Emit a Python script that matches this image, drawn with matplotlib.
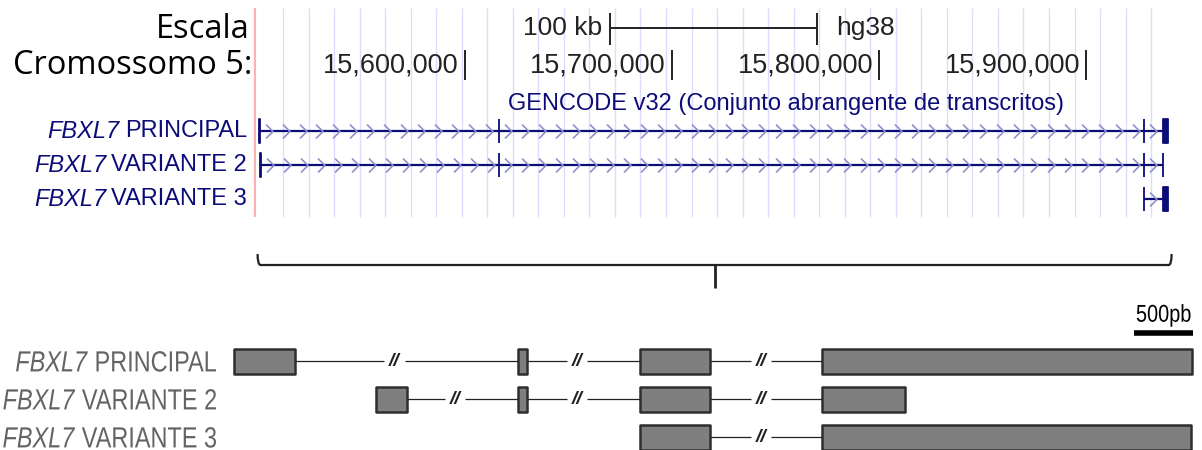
import matplotlib
matplotlib.use("Agg")
import matplotlib.pyplot as plt
import numpy as np
from matplotlib import font_manager
from matplotlib.path import Path
from matplotlib.patches import PathPatch
from matplotlib.textpath import TextPath
from matplotlib.transforms import Affine2D, IdentityTransform

# genome browser view, hg38 chr5
chrom_ticks = [15600000, 15700000, 15800000, 15900000]
chrom_labels = ["15,600,000", "15,700,000", "15,800,000", "15,900,000"]
scale_bar = (15670000, 15770000)
window_start = 15498550

gene = "FBXL7"
browser_names = ["PRINCIPAL", "VARIANTE 2", "VARIANTE 3"]
browser_exons = [
    [(15500300, 15500900), (15616300, 15616500), (15927900, 15928100), (15937000, 15939850)],
    [(15501200, 15501600), (15616300, 15616500), (15927900, 15928100), (15937000, 15937350)],
    [(15927900, 15928100), (15937000, 15939850)],
]

# exon schematic in bp, long introns collapsed at the breaks
schema_names = ["PRINCIPAL", "VARIANTE 2", "VARIANTE 3"]
schema_exons = [
    [(0, 520), (2405, 2485), (3440, 4035), (4980, 8120)],
    [(1200, 1470), (2405, 2485), (3440, 4030), (4980, 5690)],
    [(3440, 4030), (4980, 8110)],
]
schema_breaks = [
    [1360, 2910, 4470],
    [1870, 2910, 4470],
    [4470],
]
scale_bp = 500


def pick_font(*names):
    for n in names:
        try:
            font_manager.findfont(font_manager.FontProperties(family=n),
                                  fallback_to_default=False)
            return n
        except ValueError:
            pass
    return "DejaVu Sans"


sans = pick_font("Liberation Sans", "Arial")
head = pick_font("Open Sans", "Noto Sans")

NAVY = "#0c0c78"
GREY_TXT = "#646464"

W, H = 1202, 450
DPI = 100
fig = plt.figure(figsize=(W / DPI, H / DPI), dpi=DPI)
renderer = fig.canvas.get_renderer()

# top axes: x in genomic bp, y in screen rows
px_per_bp = 0.00207
ax = fig.add_axes([0, 0, 1, 1])
ax.set_xlim(15600000 - 465 / px_per_bp, 15600000 + (W - 465) / px_per_bp)
ax.set_ylim(H, 0)
ax.axis("off")

# bottom axes: x in schematic bp
bp_per_px = scale_bp / 59.0
ax2 = fig.add_axes([0, 0, 1, 1])
ax2.set_xlim(-234 * bp_per_px, (W - 234) * bp_per_px)
ax2.set_ylim(H, 0)
ax2.axis("off")


def italic_label(axis, x, y, rest, color, family, size, gap):
    t = axis.annotate(rest, (x, y), xytext=(-gap, 0), textcoords="offset pixels",
                      ha="right", va="center", color=color, family=family, fontsize=size)
    w = t.get_window_extent(renderer=renderer).width
    sp = size * 0.3
    axis.annotate(gene, (x, y), xytext=(-gap - w - sp, 0), textcoords="offset pixels",
                  ha="right", va="center", color=color, family=family, fontsize=size,
                  style="italic")


def narrow_text(axis, x, y, parts, size, color, ha="right", dx=0, stretch=0.805):
    """Condensed text built from glyph outlines; parts = [(text, style), ...]."""
    px = size * DPI / 72
    paths = []
    for s, style in parts:
        p = TextPath((0, 0), s, size=px, prop=font_manager.FontProperties(family=sans, style=style))
        paths.append(p)
    # lay out left to right
    offs, cur = [], 0.0
    for p in paths:
        offs.append(cur)
        cur += p.get_extents().x1 + px * 0.01
    total = offs[-1] + paths[-1].get_extents().x1
    x0, y0 = axis.transData.transform((x, y))
    x0 += dx
    if ha == "right":
        x0 -= total * stretch
    elif ha == "center":
        x0 -= total * stretch / 2
    y0 -= 0.716 * px / 2
    for p, o in zip(paths, offs):
        tr = Affine2D().translate(o, 0).scale(stretch, 1).translate(x0, y0)
        patch = PathPatch(tr.transform_path(p), transform=IdentityTransform(),
                          facecolor=color, edgecolor="none", clip_on=False)
        axis.add_artist(patch)


# guide lines
grid = np.arange(15512080, 15932000, 12335)
ax.vlines(grid, 8, 217, color="#dcdcff", lw=1.0, zorder=0)
ax.vlines(window_start, 8, 217, color="#ffb0b0", lw=1.5, zorder=0)

# header texts
ax.annotate("Escala", (window_start, 29), xytext=(-5, 0), textcoords="offset pixels",
            ha="right", va="center", family=head, fontsize=23.5)
ax.annotate("Cromossomo 5:", (window_start, 66), xytext=(-3, 0), textcoords="offset pixels",
            ha="right", va="center", family=head, fontsize=23.5)

# scale bar
ax.hlines(28, *scale_bar, color="#222222", lw=1.4)
ax.vlines(scale_bar, 13, 45, color="#222222", lw=1.4)
ax.annotate("100 kb", (scale_bar[0], 28), xytext=(-8, 0), textcoords="offset pixels",
            ha="right", va="center", family=sans, fontsize=19, color="#222222")
ax.annotate("hg38", (scale_bar[1], 28), xytext=(19, 0), textcoords="offset pixels",
            ha="left", va="center", family=sans, fontsize=19, color="#222222")

# chromosome coordinates
ax.vlines(chrom_ticks, 50, 80, color="#222222", lw=1.4)
for t, lab in zip(chrom_ticks, chrom_labels):
    ax.annotate(lab, (t, 66), xytext=(-6, 0), textcoords="offset pixels",
                ha="right", va="center", family=sans, fontsize=19.5, color="#222222")

ax.text(15755000, 104, "GENCODE v32 (Conjunto abrangente de transcritos)",
        ha="center", va="center", family=sans, fontsize=17, color=NAVY)

# transcripts
chev = Path([(-0.5, 1), (0.5, 0), (-0.5, -1)], [Path.MOVETO, Path.LINETO, Path.LINETO])
rows_top = [131, 165, 199]
for y, name, exons in zip(rows_top, browser_names, browser_exons):
    s, e = exons[0][0], exons[-1][1]
    ax.hlines(y, s, e, color=NAVY, lw=1.6, zorder=3)
    ax.broken_barh([(a, b - a) for a, b in exons], (y - 12, 24),
                   facecolor=NAVY, edgecolor=NAVY, lw=1.3, zorder=4)
    for (a0, a1), (b0, b1) in zip(exons[:-1], exons[1:]):
        xs = np.arange(a1 + 4200, b0 - 2000, 8200)
        if len(xs) == 0:
            xs = [(a1 + b0) / 2]
        ax.plot(xs, [y] * len(xs), ls="none", marker=chev, ms=10, mew=1.2,
                mec="#9090c8", mfc="none", zorder=5)
    italic_label(ax, window_start, y, name, NAVY, sans, 17, 8)

# bracket linking gene span to the schematic
L = browser_exons[0][0][0] - 500
R = browser_exons[0][-1][1] + 1500
d = 3 / px_per_bp
brace = Path([(L, 254), (L, 265), (L + d, 265), (R - d, 265), (R, 265), (R, 254)],
             [Path.MOVETO, Path.CURVE3, Path.CURVE3, Path.LINETO, Path.CURVE3, Path.CURVE3])
ax.add_patch(PathPatch(brace, fill=False, edgecolor="#222222", lw=1.6))
ax.vlines((L + R) / 2, 265, 288, color="#222222", lw=2.0)

# exon schematic
rows_bot = [361, 399, 437]
gap = 85
for y, name, exons, breaks in zip(rows_bot, schema_names, schema_exons, schema_breaks):
    for (a0, a1), (b0, b1) in zip(exons[:-1], exons[1:]):
        cuts = [c for c in breaks if a1 < c < b0]
        pts = [a1]
        for c in cuts:
            pts += [c - gap, c + gap]
            ax2.text(c, y, "//", ha="center", va="center", family=sans,
                     fontsize=14, style="italic", weight="bold", color="#222222")
        pts.append(b0)
        for p0, p1 in zip(pts[::2], pts[1::2]):
            ax2.hlines(y, p0, p1, color="#222222", lw=0.9)
    ax2.broken_barh([(a, b - a) for a, b in exons], (y - 12.5, 25),
                    facecolor="#7f7f7f", edgecolor="#2e2e2e", lw=1.8, zorder=3)
    narrow_text(ax2, 0, y, [(gene, "italic"), (" " + name, "normal")], 21, GREY_TXT, dx=-18)

# 500 bp bar
sb0 = 8125 - scale_bp
ax2.hlines(333, sb0, sb0 + scale_bp, color="black", lw=4, capstyle="butt")
narrow_text(ax2, sb0 + scale_bp / 2, 313, [(f"{scale_bp}pb", "normal")], 17.5, "black",
            ha="center", stretch=0.82)

fig.savefig("out.png", dpi=DPI)
